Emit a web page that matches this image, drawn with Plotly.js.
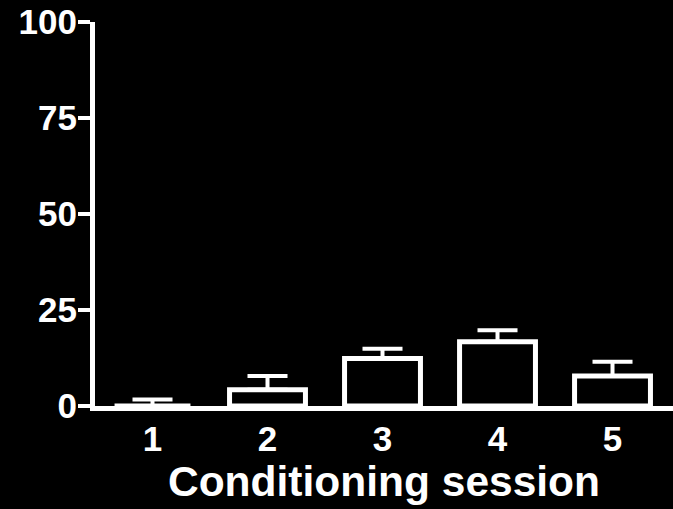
<!DOCTYPE html>
<html>
<head>
<meta charset="utf-8">
<script src="https://cdn.plot.ly/plotly-3.0.1.min.js"></script>
<style>html,body{margin:0;padding:0;background:#000;}#chart{width:673px;height:509px;}</style>
</head>
<body>
<div id="chart"></div>
<script>
const sessions = [1, 2, 3, 4, 5];
const tickLabels = ["1", "2", "3", "4", "5"];
const meanValues = [0, 4.2, 12.4, 16.7, 7.8];
const semValues = [1.7, 3.6, 2.5, 3.0, 3.7];
const yTicks = [0, 25, 50, 75, 100];

const trace = {
  type: 'bar',
  x: sessions,
  y: meanValues,
  width: 0.66,
  marker: { color: '#000000', line: { color: '#ffffff', width: 5 } },
  error_y: {
    type: 'data', array: semValues, arrayminus: sessions.map(() => 0),
    symmetric: false, color: '#ffffff', thickness: 4, width: 20
  },
  hoverinfo: 'skip'
};

const layout = {
  width: 673, height: 509,
  paper_bgcolor: '#000000', plot_bgcolor: '#000000',
  margin: { l: 95, r: 0, t: 22, b: 102.5 },
  showlegend: false,
  font: { family: 'Liberation Sans, Arial, sans-serif', color: '#ffffff' },
  xaxis: {
    range: [0.5, 5.526],
    tickmode: 'array', tickvals: sessions, ticktext: tickLabels,
    ticks: '', showgrid: false, zeroline: false,
    showline: true, linecolor: '#ffffff', linewidth: 5,
    ticklabelstandoff: -2,
    tickfont: { size: 35, family: 'Liberation Sans, Arial, sans-serif', weight: 'bold', color: '#ffffff' },
    title: { text: '<b>Conditioning session</b>', font: { size: 42.5, color: '#ffffff' }, standoff: 4 }
  },
  yaxis: {
    range: [0, 100],
    tickmode: 'array', tickvals: yTicks, ticktext: yTicks.map(String),
    ticks: 'outside', ticklen: 12, tickwidth: 4, tickcolor: '#ffffff',
    ticklabelstandoff: -6,
    showgrid: false, zeroline: false,
    showline: true, linecolor: '#ffffff', linewidth: 5,
    tickfont: { size: 35, family: 'Liberation Sans, Arial, sans-serif', weight: 'bold', color: '#ffffff' }
  }
};

Plotly.newPlot('chart', [trace], layout, { staticPlot: true, displayModeBar: false });
</script>
</body>
</html>
